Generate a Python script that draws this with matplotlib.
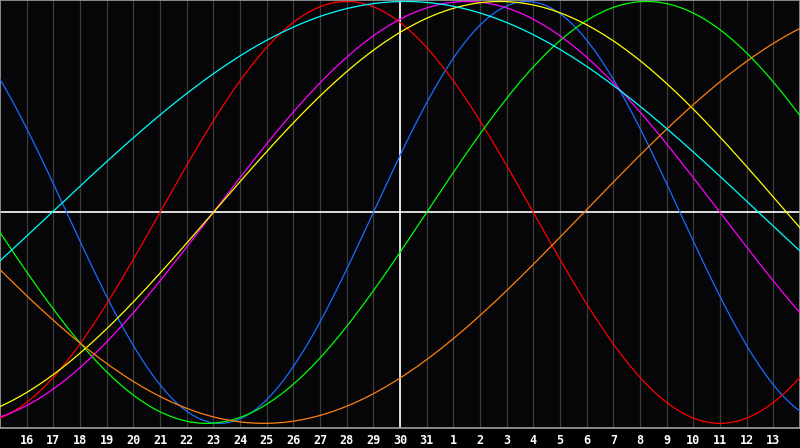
import numpy as np
import matplotlib.pyplot as plt

# Biorhythm cycles: period in days and the day the cycle crosses zero going up
cycles = ['physical', 'emotional', 'intellectual', 'intuitive', 'aesthetic', 'awareness', 'spiritual']
periods = [23, 28, 33, 38, 43, 48, 53]
zero_days = [29.0, 21.0, 31.0, 23.0, 23.0, 36.9, 16.95]
colors = ['#1a6cff', '#ff0000', '#00ff00', '#ff00ff', '#ffff00', '#ff8010', '#00ffff']

# Days shown: 15 .. 45 (month of 31 days, then next month)
first_day = 15
last_day = 45
tick_days = list(range(16, 45))
tick_labels = [str(d if d <= 31 else d - 31) for d in tick_days]
today = 30

fig = plt.figure(figsize=(8, 4.48), dpi=100)
fig.patch.set_facecolor('#000000')
ax = fig.add_axes([0, 20 / 448, 1, 428 / 448])
ax.set_facecolor('#060608')

# Day grid
for d in tick_days:
    ax.axvline(d, color='#3c3c3c', lw=0.9, zorder=1)
ax.axvline(today, color='white', lw=1.2, zorder=2)
ax.axhline(0, color='white', lw=1.2, zorder=2)

days = np.linspace(first_day, last_day, 1200)
for p, z, c in zip(periods, zero_days, colors):
    ax.plot(days, np.sin(2 * np.pi * (days - z) / p), color=c, lw=0.9, zorder=3)

ax.set_xlim(first_day, last_day)
ax.set_ylim(-1.022, 1.007)
ax.set_xticks(tick_days)
ax.set_xticklabels(tick_labels, color='white', fontsize=8.5, fontweight='bold',
                   family='DejaVu Sans Mono')
ax.tick_params(axis='x', length=0, pad=4)
ax.set_yticks([])
for s in ax.spines.values():
    s.set_color('#a0a0a0')
    s.set_linewidth(1.2)

fig.savefig('out.png', dpi=100, facecolor=fig.get_facecolor())
